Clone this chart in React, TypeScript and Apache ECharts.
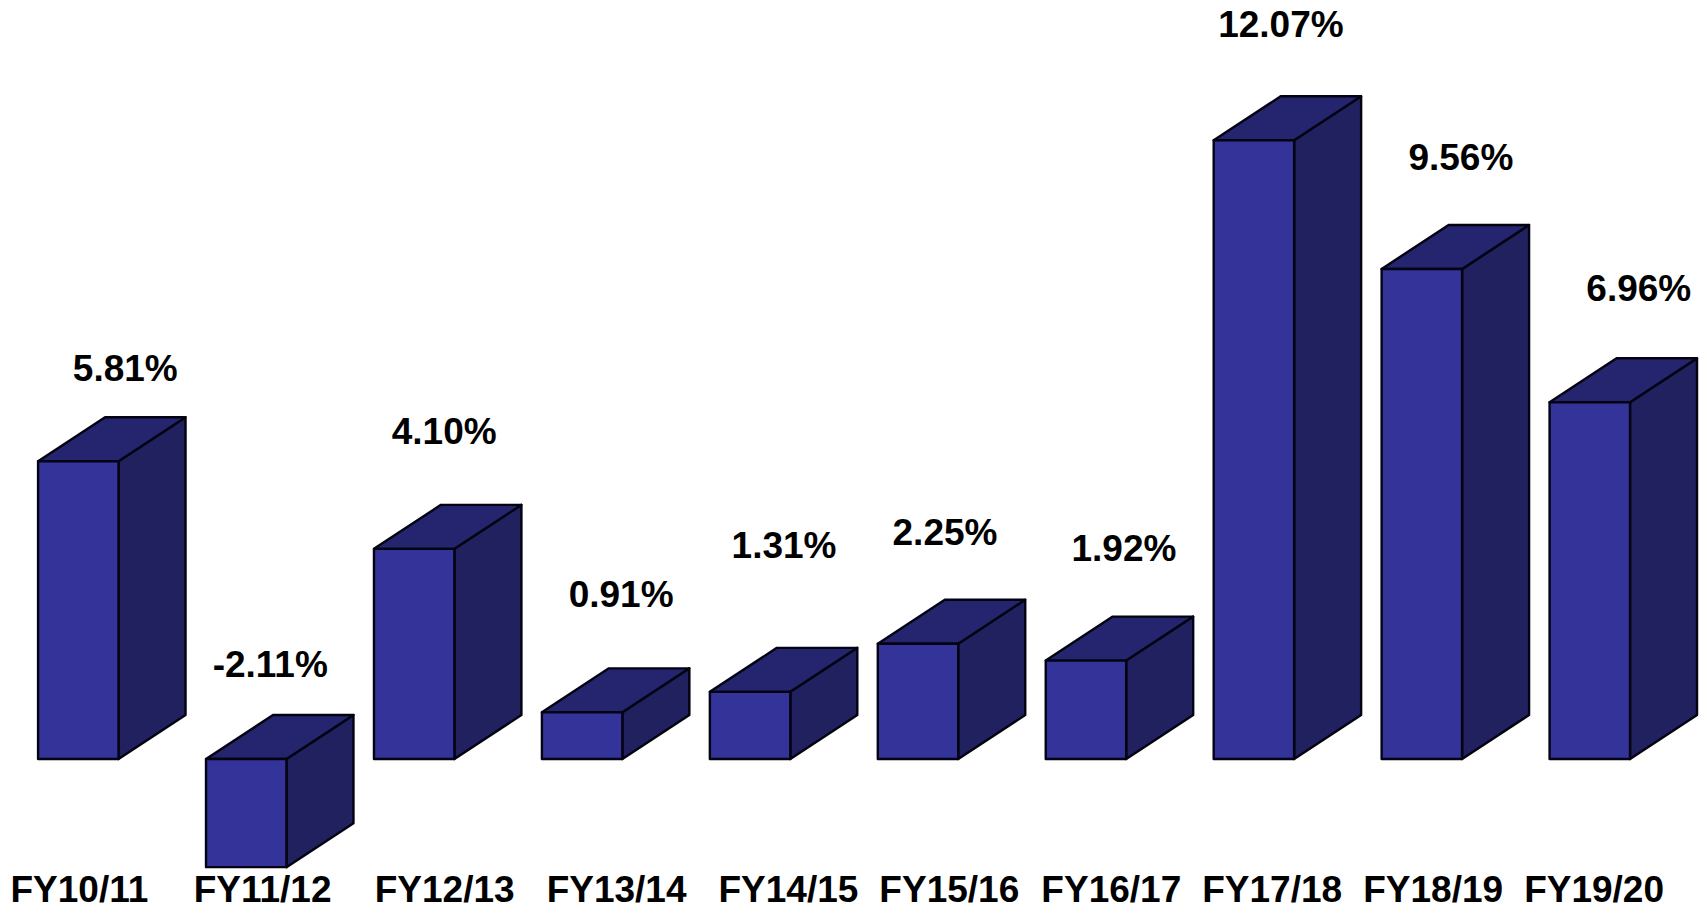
import React, { useEffect, useRef } from "react";
import * as echarts from "echarts";

const categories = ["FY10/11", "FY11/12", "FY12/13", "FY13/14", "FY14/15", "FY15/16", "FY16/17", "FY17/18", "FY18/19", "FY19/20"];
const growth = [5.81, -2.11, 4.1, 0.91, 1.31, 2.25, 1.92, 12.07, 9.56, 6.96];

// Layout only: hand-placed label anchors of the reference (px)
const valueLabelDx = [47, 24, 30, 39, 34, 27, 38, 27, 39, 49];
const valueLabelY = [368.5, 664.3, 431.6, 594.7, 545.8, 532.7, 548, 24.9, 157.6, 288];
const categoryLabelX = [79.4, 262.6, 444.7, 616.6, 788.4, 949.3, 1111.3, 1272.2, 1433.2, 1594.1];
const categoryLabelY = 889.5;
const BAR_RATIO = 0.479;
const DEPTH_X = 67;
const DEPTH_Y = 44;
const FRONT = "#333399";
const SIDE = "#212160";
const TOP = "#25256f";
const STROKE = "#030312";
const FONT = "Liberation Sans";

const renderBox = (params: any, api: any) => {
  const i = api.value(0);
  const v = api.value(1);
  const [cx, y0] = api.coord([i, 0]);
  const [, y1] = api.coord([i, v]);
  const w = api.size([1, 0])[0] * BAR_RATIO;
  const l = cx - w / 2;
  const r = cx + w / 2;
  const top = Math.min(y0, y1);
  const bot = Math.max(y0, y1);
  const line = { stroke: STROKE, lineWidth: 2.4, lineJoin: "round" };
  const text = (t: string, x: number, y: number) => ({
    type: "text",
    style: { text: t, x, y, fill: "#000", align: "center", verticalAlign: "middle", fontFamily: FONT, fontWeight: "bold", fontSize: 37 },
  });
  return {
    type: "group",
    children: [
      { type: "polygon", shape: { points: [[r, top], [r + DEPTH_X, top - DEPTH_Y], [r + DEPTH_X, bot - DEPTH_Y], [r, bot]] }, style: { fill: SIDE, ...line } },
      { type: "polygon", shape: { points: [[l, top], [l + DEPTH_X, top - DEPTH_Y], [r + DEPTH_X, top - DEPTH_Y], [r, top]] }, style: { fill: TOP, ...line } },
      { type: "rect", shape: { x: l, y: top, width: w, height: bot - top }, style: { fill: FRONT, ...line } },
      text(`${growth[i].toFixed(2)}%`, cx + valueLabelDx[i], valueLabelY[i]),
      text(categories[i], categoryLabelX[i], categoryLabelY),
    ],
  };
};

export default function App() {
  const ref = useRef<HTMLDivElement>(null);
  useEffect(() => {
    const chart = echarts.init(ref.current!, undefined, { renderer: "svg" });
    chart.setOption({
      animation: false,
      backgroundColor: "#ffffff",
      grid: { left: 78.3, top: 0, width: 1511.5, height: 909 },
      xAxis: { type: "category", data: categories, show: false, boundaryGap: false },
      yAxis: { type: "value", min: -2.926, max: 14.807, show: false },
      series: [
        {
          type: "custom",
          clip: false,
          renderItem: renderBox,
          encode: { x: 0, y: 1 },
          data: growth.map((v, i) => [i, v]),
        },
      ],
    });
    return () => chart.dispose();
  }, []);
  return <div ref={ref} style={{ position: "fixed", left: 0, top: 0, width: 1705, height: 909 }} />;
}
